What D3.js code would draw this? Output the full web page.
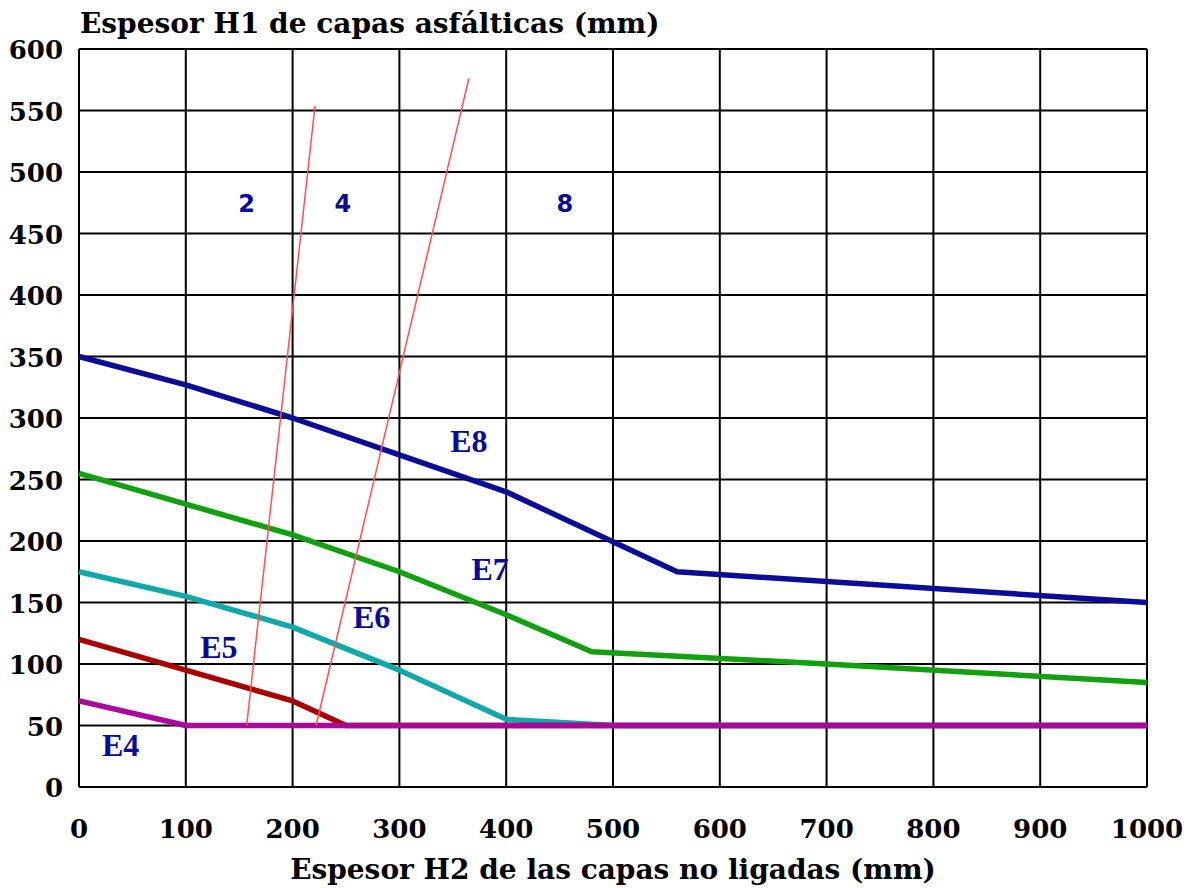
<!DOCTYPE html>
<html>
<head>
<meta charset="utf-8">
<script src="https://cdn.jsdelivr.net/npm/d3@7"></script>
<style>
  body { margin: 0; background: #fff; }
  text { font-family: "DejaVu Serif", serif; font-weight: bold; }
</style>
</head>
<body>
<svg id="chart" width="1197" height="888"></svg>
<script>
// curves: [H2, H1] points per category
const e8 = [[0, 350], [100, 327], [200, 300], [300, 270], [400, 240], [560, 175], [1000, 150]]
const e7 = [[0, 255], [100, 230], [200, 205], [300, 175], [400, 140], [480, 110], [700, 100], [1000, 85]]
const e6 = [[0, 175], [100, 155], [200, 130], [300, 95], [400, 55], [500, 50], [1000, 50]]
const e5 = [[0, 120], [100, 95], [200, 70], [250, 50], [1000, 50]]
const e4 = [[0, 70], [100, 50], [1000, 50]]

// thin boundary lines between the 2 / 4 / 8 zones
const limit24 = [[157, 50], [221, 554]]
const limit48 = [[222, 50], [365, 576]]

const curveLabels = [
  { text: 'E8', x: 365, y: 281 },
  { text: 'E7', x: 385, y: 177 },
  { text: 'E6', x: 274, y: 138 },
  { text: 'E5', x: 131, y: 114 },
  { text: 'E4', x: 39, y: 34 }
]
const zoneLabels = [
  { text: '2', x: 157, y: 475 },
  { text: '4', x: 247, y: 475 },
  { text: '8', x: 455, y: 475 }
]

const xTicks = [0, 100, 200, 300, 400, 500, 600, 700, 800, 900, 1000]
const yTicks = [0, 50, 100, 150, 200, 250, 300, 350, 400, 450, 500, 550, 600]

const svg = d3.select('#chart')
const mLeft = 79, mRight = 1147, mTop = 49, mBottom = 787

const x = d3.scaleLinear().domain([0, 1000]).range([mLeft, mRight])
const y = d3.scaleLinear().domain([0, 600]).range([mBottom, mTop])

// grid
svg.append('g')
  .selectAll('line')
  .data(xTicks)
  .join('line')
  .attr('x1', d => x(d)).attr('x2', d => x(d))
  .attr('y1', mTop).attr('y2', mBottom)
  .attr('stroke', '#000').attr('stroke-width', 2)

svg.append('g')
  .selectAll('line')
  .data(yTicks)
  .join('line')
  .attr('x1', mLeft).attr('x2', mRight)
  .attr('y1', d => y(d)).attr('y2', d => y(d))
  .attr('stroke', '#000').attr('stroke-width', 2)

// tick labels
svg.append('g')
  .selectAll('text')
  .data(xTicks)
  .join('text')
  .attr('x', d => x(d))
  .attr('y', 838)
  .attr('text-anchor', 'middle')
  .style('font-size', '26px')
  .text(d => d)

svg.append('g')
  .selectAll('text')
  .data(yTicks)
  .join('text')
  .attr('x', 63)
  .attr('y', d => y(d) + 10)
  .attr('text-anchor', 'end')
  .style('font-size', '26px')
  .text(d => d)

// curves
const line = d3.line().x(d => x(d[0])).y(d => y(d[1]))
const curves = [
  { data: e8, color: '#0c0c96' },
  { data: e7, color: '#10a010' },
  { data: e6, color: '#10a8a8' },
  { data: e5, color: '#a80000' },
  { data: e4, color: '#a8089c' }
]
svg.append('g')
  .selectAll('path')
  .data(curves)
  .join('path')
  .attr('d', d => line(d.data))
  .attr('fill', 'none')
  .attr('stroke', d => d.color)
  .attr('stroke-width', 5.5)
  .attr('stroke-linejoin', 'round')

svg.append('g')
  .selectAll('path')
  .data([limit24, limit48])
  .join('path')
  .attr('d', line)
  .attr('fill', 'none')
  .attr('stroke', '#ff5050')
  .attr('stroke-width', 1.5)

// labels
svg.append('g')
  .selectAll('text')
  .data(curveLabels)
  .join('text')
  .attr('x', d => x(d.x))
  .attr('y', d => y(d.y) + 11)
  .attr('text-anchor', 'middle')
  .style('font-size', '32px')
  .style('font-family', '"Liberation Serif", serif')
  .attr('fill', '#0a0a9a')
  .text(d => d.text)

svg.append('g')
  .selectAll('text')
  .data(zoneLabels)
  .join('text')
  .attr('x', d => x(d.x))
  .attr('y', d => y(d.y) + 9)
  .attr('text-anchor', 'middle')
  .style('font-size', '24px')
  .style('font-family', '"DejaVu Sans", sans-serif')
  .attr('fill', '#0a0a9a')
  .text(d => d.text)

// axis titles
svg.append('text')
  .attr('x', 80).attr('y', 33)
  .style('font-size', '28px')
  .text('Espesor H1 de capas asfálticas (mm)')

svg.append('text')
  .attr('x', (mLeft + mRight) / 2).attr('y', 879)
  .attr('text-anchor', 'middle')
  .style('font-size', '28px')
  .text('Espesor H2 de las capas no ligadas (mm)')
</script>
</body>
</html>
